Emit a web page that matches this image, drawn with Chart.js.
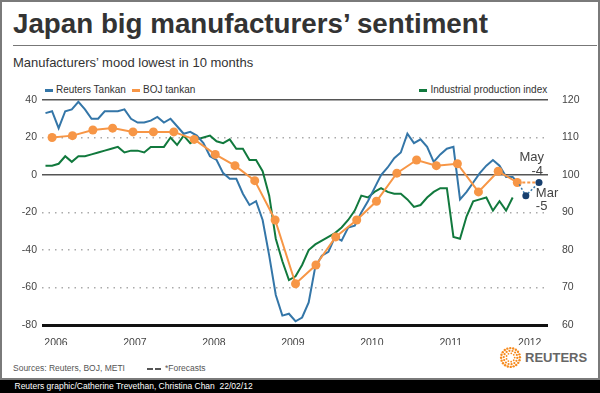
<!DOCTYPE html>
<html>
<head>
<meta charset="utf-8">
<script src="https://cdn.jsdelivr.net/npm/chart.js@4.4.1/dist/chart.umd.min.js"></script>
<style>
  body { margin: 0; background: #fff; font-family: "Liberation Sans", Arial, sans-serif; }
  #page { position: relative; width: 600px; height: 393px; overflow: hidden; }
  #frame { position: absolute; left: 0; top: 0; width: 600px; height: 380px; box-sizing: border-box; border: 2px solid #7a7a7a; background: #fff; }
  #bar { position: absolute; left: 0; top: 380px; width: 600px; height: 13px; background: #000; }
  .txt { position: absolute; white-space: nowrap; }
  #title { left: 13px; top: 9.6px; font-size: 28px; line-height: 28px; font-weight: bold; color: #333; transform-origin: 0 0; }
  #rule { position: absolute; left: 13px; top: 45px; width: 584px; height: 1px; background: #777; }
  #subtitle { left: 13px; top: 55.5px; font-size: 13px; line-height: 13px; color: #333; }
  .leg { font-size: 10px; line-height: 12px; top: 84px; color: #333; }
  .sw { position: absolute; top: 88.5px; width: 8px; height: 3px; }
  #sources { left: 13px; top: 363px; font-size: 8.5px; line-height: 11px; color: #555; }
  #fc { left: 165px; top: 363px; font-size: 8.5px; line-height: 11px; color: #555; }
  .dash { position: absolute; top: 367.5px; width: 6px; height: 2px; background: #555; }
  #brand { left: 525px; top: 349.5px; font-size: 13px; line-height: 15px; font-weight: bold; color: #666; }
  #credit { left: 14.5px; top: 381px; font-size: 8.5px; line-height: 11px; color: #fff; }
  #logo { position: absolute; left: 499px; top: 346px; }
  #chartBox { position: absolute; left: 0; top: 0; width: 600px; height: 393px; }
</style>
</head>
<body>
<div id="page">
  <div id="frame"></div>
  <div id="bar"></div>
  <div class="txt" id="title">Japan big manufacturers’ sentiment</div>
  <div id="rule"></div>
  <div class="txt" id="subtitle">Manufacturers’ mood lowest in 10 months</div>

  <div class="sw" style="left:45px;background:#3476a8"></div>
  <div class="txt leg" style="left:56px">Reuters Tankan</div>
  <div class="sw" style="left:131.5px;background:#f79646"></div>
  <div class="txt leg" style="left:143px">BOJ tankan</div>
  <div class="sw" style="left:418.5px;background:#11793d"></div>
  <div class="txt leg" style="left:430.5px">Industrial production index</div>

  <div class="txt" id="sources">Sources: Reuters, BOJ, METI</div>
  <div class="dash" style="left:147px"></div>
  <div class="dash" style="left:155px"></div>
  <div class="txt" id="fc">*Forecasts</div>
  <svg id="logo" width="23" height="23" viewBox="0 0 23 23"></svg>
  <div class="txt" id="brand">REUTERS</div>
  <div class="txt" id="credit">Reuters graphic/Catherine Trevethan, Christina Chan&nbsp; 22/02/12</div>

  <div id="chartBox"><canvas id="chart" width="600" height="393"></canvas></div>
</div>
<script>
// x values are months counted from Jan 2006 (0 = Jan 2006)
var yearLabels = ["2006", "2007", "2008", "2009", "2010", "2011", "2012"];

// Reuters Tankan, monthly from Jan 2006
var reutersTankan = [33, 34, 25, 34, 35, 39, 35, 30, 30, 34, 34, 34,
                     35, 30, 28, 28, 29, 31, 28, 30, 26, 22, 23, 21,
                     17, 10, 8, 1, -2, -2, -10, -16, -14, -24, -43, -64,
                     -75, -74, -78, -76, -68, -49, -43, -41, -33, -35, -28, -27,
                     -20, -14, -7, 0, 4, 9, 12, 22, 17, 19, 15, 7,
                     11, 14, 15, -13, -9, -4, 1, 5, 8, 5, -1, -1,
                     -5];
var reutersFcMonths = [72, 73, 75];
var reutersFc = [-5, -11, -4];

// BOJ tankan, quarterly, positions as placed in the graphic
var bojMonths = [1.0, 4.1, 7.2, 10.2, 13.3, 16.4, 19.5, 22.6, 25.8, 28.8, 31.8, 34.9,
                 38.0, 41.1, 44.1, 47.3, 50.3, 53.4, 56.4, 59.4, 62.6, 65.8, 68.8, 71.7];
var bojTankan = [20, 21, 24, 25, 23, 23, 23, 19, 11, 5, -3, -24,
                 -58, -48, -33, -24, -14, 1, 8, 5, 6, -9, 2, -4];
var bojFcMonths = [71.7, 75.0];
var bojFc = [-4, -4];

// Industrial production index, monthly from Jan 2006 (right axis)
var ipIndex = [102.5, 102.5, 103, 105, 103.5, 105, 105, 105.5, 106, 106.5, 107, 107.5,
               106, 106.5, 106.5, 106, 107.5, 107.5, 107.5, 110, 108, 110.5, 108.5, 109.5,
               110, 110.5, 109, 108.5, 109.5, 107, 107, 104, 104, 101, 94.5, 83,
               77, 72, 73, 76, 80, 81.5, 82.5, 83.5, 84.5, 86, 88, 90.5,
               94.5, 94, 95.5, 96.5, 95.5, 95, 95, 93.5, 91.5, 92, 94, 95.5,
               96.5, 96.5, 83.5, 83, 89, 93, 93.5, 94, 90.5, 93, 90.5, 94];

var notes = [
    {x: 75, y: -4, lines: ["May", "-4"]},
    {x: 73, y: -11, lines: ["Mar", "-5"]}
];

var FONT = '"Liberation Sans", Arial, sans-serif';
var BLUE = "#3476a8", NAVY = "#173f6e", ORANGE = "#f79646", GREEN = "#11793d";

// fit the headline to its width in the graphic
(function () {
    var t = document.getElementById("title");
    var w = t.getBoundingClientRect().width;
    t.style.transform = "scaleX(" + (475 / w) + ")";
})();

// orange dotted sunburst logo
(function () {
    var svg = document.getElementById("logo");
    var rings = [[4.2, 9, 0.9], [6.8, 14, 1.1], [9.4, 20, 1.2]];
    var out = "";
    rings.forEach(function (r) {
        for (var i = 0; i < r[1]; i++) {
            var a = i / r[1] * Math.PI * 2 + r[0];
            out += '<circle cx="' + (11.5 + r[0] * Math.cos(a)).toFixed(2) + '" cy="' +
                (11.5 + r[0] * Math.sin(a)).toFixed(2) + '" r="' + r[2] + '" fill="#f68b1f"/>';
        }
    });
    svg.innerHTML = out;
})();

function pts(xs, ys) {
    return ys.map(function (v, i) { return {x: xs[i], y: v}; });
}
function monthly(ys) {
    return ys.map(function (v, i) { return {x: i, y: v}; });
}

var notePlugin = {
    id: "notes",
    afterDatasetsDraw: function (chart) {
        var ctx = chart.ctx, xs = chart.scales.x, ys = chart.scales.y;
        ctx.save();
        ctx.font = "13px " + FONT;
        ctx.fillStyle = "#444";
        ctx.textBaseline = "middle";
        var a = notes[0], px = xs.getPixelForValue(a.x), py = ys.getPixelForValue(a.y);
        ctx.textAlign = "right";
        ctx.fillText(a.lines[0], px + 5, py - 25);
        ctx.fillText(a.lines[1], px + 4, py - 11.5);
        var b = notes[1];
        px = xs.getPixelForValue(b.x); py = ys.getPixelForValue(b.y);
        ctx.textAlign = "left";
        ctx.fillText(b.lines[0], px + 10, py - 2.5);
        ctx.fillText(b.lines[1], px + 10, py + 10.5);
        ctx.restore();
    }
};

function gridColor(c) {
    var v = c.tick.value;
    if (v === -80) return "#111";
    if (v === 40 || v === 0) return "#555";
    return "#aaa";
}

var ctx = document.getElementById("chart");
var myChart = new Chart(ctx, {
    type: "line",
    data: {
        datasets: [
            {
                label: "Reuters Tankan forecast",
                data: pts(reutersFcMonths, reutersFc),
                borderColor: BLUE,
                borderWidth: 1.5,
                borderDash: [2, 2],
                pointRadius: [0, 3.5, 3.5],
                pointBackgroundColor: NAVY,
                pointBorderWidth: 0,
                yAxisID: "y"
            },
            {
                label: "BOJ tankan forecast",
                data: pts(bojFcMonths, bojFc),
                borderColor: ORANGE,
                borderWidth: 2,
                borderDash: [3, 2],
                pointRadius: 0,
                yAxisID: "y"
            },
            {
                label: "BOJ tankan",
                data: pts(bojMonths, bojTankan),
                borderColor: ORANGE,
                borderWidth: 2,
                pointRadius: 4.5,
                pointBackgroundColor: ORANGE,
                pointBorderWidth: 0,
                yAxisID: "y"
            },
            {
                label: "Reuters Tankan",
                data: monthly(reutersTankan),
                borderColor: BLUE,
                borderWidth: 2,
                pointRadius: 0,
                yAxisID: "y"
            },
            {
                label: "Industrial production index",
                data: monthly(ipIndex),
                borderColor: GREEN,
                borderWidth: 2,
                pointRadius: 0,
                yAxisID: "y1"
            }
        ]
    },
    options: {
        responsive: false,
        animation: false,
        events: [],
        layout: {padding: {top: 100, bottom: 48, left: 0, right: 0}},
        plugins: {legend: {display: false}, tooltip: {enabled: false}},
        scales: {
            x: {
                type: "linear",
                min: -0.53,
                max: 76.37,
                grid: {display: false},
                border: {display: false},
                afterBuildTicks: function (s) {
                    s.ticks = yearLabels.map(function (l, i) { return {value: i * 12}; });
                },
                afterFit: function (s) { s.height = 20; },
                ticks: {
                    autoSkip: false,
                    maxRotation: 0,
                    padding: 4,
                    labelOffset: 10.5,
                    color: "#444",
                    font: {size: 10.5, family: FONT},
                    callback: function (v) { return yearLabels[Math.round(v / 12)]; }
                }
            },
            y: {
                position: "left",
                min: -80,
                max: 40,
                afterFit: function (s) { s.width = 42; },
                ticks: {stepSize: 20, padding: 5, color: "#444", font: {size: 10.5, family: FONT}},
                grid: {
                    drawTicks: false,
                    color: gridColor,
                    lineWidth: function (c) { return c.tick.value === -80 ? 3 : 1.5; }
                },
                border: {
                    display: false,
                    dash: function (c) {
                        var v = c.tick.value;
                        return (v === 40 || v === 0 || v === -80) ? [] : [1.5, 5];
                    }
                }
            },
            y1: {
                position: "right",
                min: 60,
                max: 120,
                afterFit: function (s) { s.width = 52; },
                ticks: {stepSize: 10, padding: 6, color: "#444", font: {size: 10.5, family: FONT}},
                grid: {display: false},
                border: {display: false}
            }
        }
    },
    plugins: [notePlugin]
});
</script>
</body>
</html>
